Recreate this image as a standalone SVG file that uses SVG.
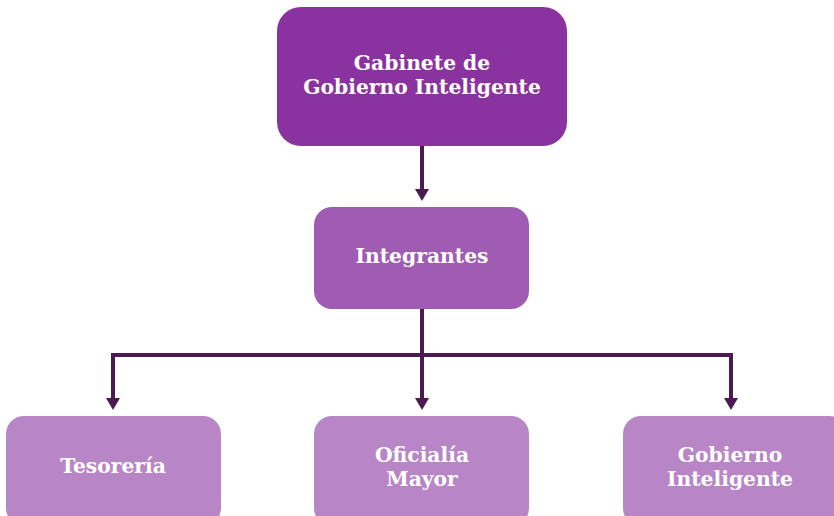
<svg xmlns="http://www.w3.org/2000/svg" width="834" height="516" viewBox="0 0 834 516">
<style>
.t{font-family:"DejaVu Serif","Liberation Serif",serif;font-weight:bold;font-size:20.3px;fill:#ffffff;text-anchor:middle}
.c{stroke:#4a1a50;stroke-width:4;fill:none}
.a{fill:#4a1a50}
.n1{fill:#8a329f}
.n2{fill:#a05cb3}
.n3{fill:#b886c6}
</style>
<rect width="834" height="516" fill="#ffffff"/>
<g id="connectors">
<path class="c" d="M422,146 V190"/>
<path class="c" d="M422,309 V400"/>
<path class="c" d="M422,355 H113 V400"/>
<path class="c" d="M422,355 H731 V400"/>
<path class="a" d="M415,189 L429,189 L422,201 Z"/>
<path class="a" d="M106,398 L120,398 L113,410 Z"/>
<path class="a" d="M415,398 L429,398 L422,410 Z"/>
<path class="a" d="M724,398 L738,398 L731,410 Z"/>
</g>
<g id="gabinete">
<rect class="n1" x="277" y="7" width="290" height="139" rx="24"/>
<text class="t" x="422" y="70">Gabinete de</text>
<text class="t" x="422" y="94">Gobierno Inteligente</text>
</g>
<g id="integrantes">
<rect class="n2" x="314" y="207" width="215" height="102" rx="18"/>
<text class="t" x="422" y="263">Integrantes</text>
</g>
<g id="tesoreria">
<rect class="n3" x="6" y="416" width="215" height="110" rx="18"/>
<text class="t" x="113" y="473">Tesorería</text>
</g>
<g id="oficialia">
<rect class="n3" x="314" y="416" width="215" height="110" rx="18"/>
<text class="t" x="422" y="462">Oficialía</text>
<text class="t" x="422" y="486">Mayor</text>
</g>
<g id="gobierno">
<rect class="n3" x="623" y="416" width="225" height="110" rx="18"/>
<text class="t" x="730" y="462">Gobierno</text>
<text class="t" x="730" y="486">Inteligente</text>
</g>
</svg>
